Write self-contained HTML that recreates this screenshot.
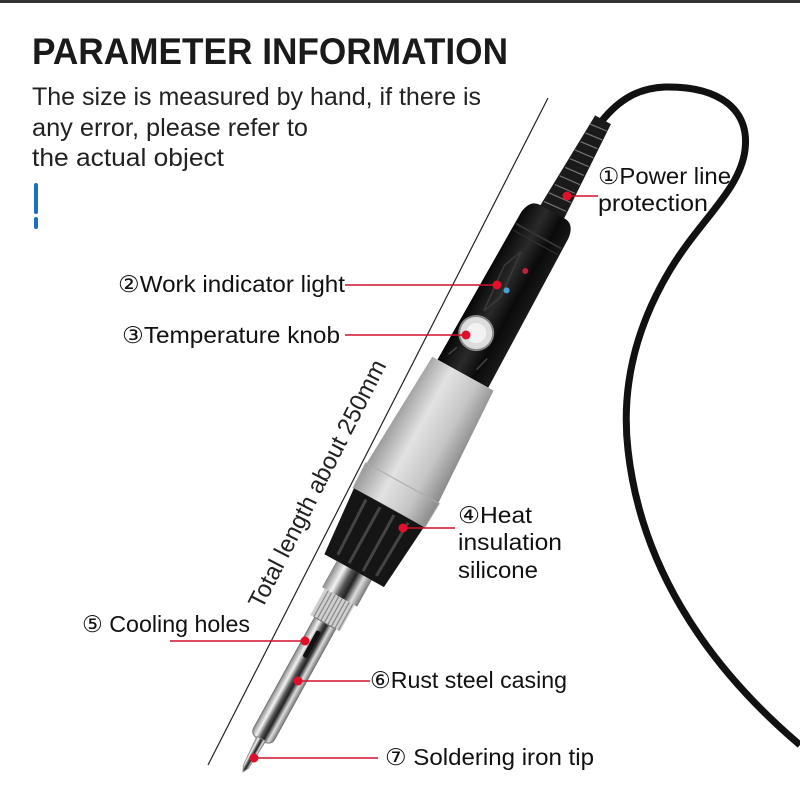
<!DOCTYPE html>
<html><head><meta charset="utf-8"><style>
html,body{margin:0;padding:0;background:#fff;}
svg{display:block;}
text{font-family:"Liberation Sans",sans-serif;}
</style></head><body>
<svg width="800" height="800" viewBox="0 0 800 800" xmlns="http://www.w3.org/2000/svg">
<defs>
<linearGradient id="steel" x1="0" x2="1" y1="0" y2="0">
<stop offset="0" stop-color="#888"/><stop offset="0.25" stop-color="#f4f4f4"/><stop offset="0.45" stop-color="#555"/><stop offset="0.6" stop-color="#222"/><stop offset="0.8" stop-color="#ddd"/><stop offset="1" stop-color="#777"/>
</linearGradient>
<linearGradient id="gray" x1="0" x2="1" y1="0" y2="0">
<stop offset="0" stop-color="#9a9a9a"/><stop offset="0.35" stop-color="#e2e2e2"/><stop offset="0.7" stop-color="#c6c6c6"/><stop offset="1" stop-color="#8a8a8a"/>
</linearGradient>
<linearGradient id="black" x1="0" x2="1" y1="0" y2="0">
<stop offset="0" stop-color="#050505"/><stop offset="0.4" stop-color="#2a2a2a"/><stop offset="0.7" stop-color="#0a0a0a"/><stop offset="1" stop-color="#1a1a1a"/>
</linearGradient>
</defs>
<rect x="0" y="0" width="800" height="3" fill="#333"/>
<text x="32" y="64" font-size="37" font-weight="bold" fill="#1a1a1a" textLength="476" lengthAdjust="spacingAndGlyphs">PARAMETER INFORMATION</text>
<text x="32" y="105" font-size="25" fill="#222" textLength="449" lengthAdjust="spacingAndGlyphs">The size is measured by hand, if there is</text>
<text x="32" y="136" font-size="25" fill="#222" textLength="276" lengthAdjust="spacingAndGlyphs">any error, please refer to</text>
<text x="32" y="166" font-size="25" fill="#222" textLength="192" lengthAdjust="spacingAndGlyphs">the actual object</text>
<rect x="34" y="183" width="4" height="31" rx="2" fill="#1a6fc0"/>
<rect x="34" y="217" width="4" height="12" rx="2" fill="#1a6fc0"/>

<line x1="208" y1="765" x2="548" y2="98" stroke="#222" stroke-width="1.2"/>
<text x="0" y="0" font-size="24" fill="#222" transform="translate(262,610) rotate(-63)" textLength="275" lengthAdjust="spacingAndGlyphs">Total length about 250mm</text>

<path d="M601,122 C620,98 640,88 665,87 C720,86 750,110 745,150 C740,190 700,220 670,270 C640,320 620,380 628,450 C640,560 700,660 800,745" fill="none" stroke="#111" stroke-width="7"/>

<g transform="translate(243,772) rotate(28.9)">
  <path d="M-14,-630 L-9,-745 L9,-745 L14,-630 Z" fill="#1a1a1a"/>
  <g stroke="#777" stroke-width="1.2">
    <line x1="-12" y1="-645" x2="12" y2="-647"/><line x1="-12" y1="-655" x2="12" y2="-657"/><line x1="-11" y1="-665" x2="11" y2="-667"/><line x1="-11" y1="-675" x2="11" y2="-677"/><line x1="-10" y1="-685" x2="10" y2="-687"/><line x1="-10" y1="-695" x2="10" y2="-697"/><line x1="-10" y1="-705" x2="10" y2="-707"/><line x1="-9" y1="-715" x2="9" y2="-717"/><line x1="-9" y1="-725" x2="9" y2="-727"/><line x1="-9" y1="-735" x2="9" y2="-737"/>
  </g>
  <path d="M-29,-455 L-27,-625 Q-25,-640 -14,-640 L14,-640 Q25,-640 27,-625 L29,-455 Z" fill="url(#black)"/>
  <line x1="-26" y1="-612" x2="26" y2="-612" stroke="#333" stroke-width="2"/>
  <line x1="-26" y1="-605" x2="26" y2="-605" stroke="#333" stroke-width="1"/>
  <path d="M-12,-520 L-16,-570 L-8,-590 L-4,-540 Z" fill="none" stroke="#3a3a3a" stroke-width="1.5"/>
  <circle cx="5" cy="-575" r="3" fill="#c0203a"/>
  <circle cx="-2" cy="-549" r="3" fill="#4aa3d8"/>
  <circle cx="-8" cy="-497" r="17" fill="#ddd" stroke="#888" stroke-width="2"/>
  <circle cx="-8" cy="-497" r="10" fill="#f2f2f2"/>
  <path d="M-22,-465 L-18,-475 M10,-465 L14,-480" stroke="#444" stroke-width="1.5"/>
  <path d="M-35,-455 L35,-455 L41,-330 L-41,-330 Z" fill="url(#gray)"/>
  <path d="M-42,-330 L42,-330 L41,-302 L-41,-302 Z" fill="url(#gray)" stroke="#aaa" stroke-width="1"/>
  <path d="M-40,-302 L40,-302 L34,-230 L-34,-230 Z" fill="#151515"/>
  <g stroke="#444" stroke-width="3"><line x1="-24" y1="-298" x2="-22" y2="-236"/><line x1="-8" y1="-298" x2="-8" y2="-234"/><line x1="8" y1="-298" x2="8" y2="-234"/><line x1="24" y1="-298" x2="22" y2="-236"/></g>
  <rect x="-20" y="-230" width="40" height="30" fill="url(#steel)"/>
  <rect x="-17" y="-200" width="34" height="30" fill="#cfcfcf"/>
  <g stroke="#888" stroke-width="1.2"><line x1="-13" y1="-200" x2="-13" y2="-170"/><line x1="-9" y1="-200" x2="-9" y2="-170"/><line x1="-5" y1="-200" x2="-5" y2="-170"/><line x1="-1" y1="-200" x2="-1" y2="-170"/><line x1="3" y1="-200" x2="3" y2="-170"/><line x1="7" y1="-200" x2="7" y2="-170"/><line x1="11" y1="-200" x2="11" y2="-170"/><line x1="15" y1="-200" x2="15" y2="-170"/></g>
  <path d="M-12,-170 L12,-170 L12,-44 Q12,-36 0,-36 Q-12,-36 -12,-44 Z" fill="url(#steel)" stroke="#777" stroke-width="1"/>
  <rect x="-4" y="-160" width="5" height="30" rx="2" fill="#111"/>
  <path d="M-5,-38 L5,-38 L3,-6 L0,0 L-3,-6 Z" fill="url(#steel)" stroke="#888" stroke-width="0.8"/>
</g>

<g stroke="#d0102a" stroke-width="1.6" fill="none">
  <line x1="567" y1="196" x2="598" y2="196"/>
  <line x1="345" y1="285" x2="497" y2="285"/>
  <line x1="345" y1="335" x2="466" y2="335"/>
  <line x1="403" y1="528" x2="455" y2="528"/>
  <line x1="170" y1="641" x2="305" y2="641"/>
  <line x1="298" y1="681" x2="370" y2="681"/>
  <line x1="254" y1="758" x2="378" y2="758"/>
</g>
<g fill="#e0102a">
  <circle cx="567" cy="196" r="4.5"/><circle cx="497" cy="285" r="4.5"/><circle cx="466" cy="335" r="4.5"/>
  <circle cx="403" cy="528" r="4.5"/><circle cx="305" cy="641" r="4.5"/><circle cx="298" cy="681" r="4.5"/><circle cx="254" cy="758" r="4.5"/>
</g>
<g font-size="23" fill="#111">
  <text x="598" y="184" textLength="133" lengthAdjust="spacingAndGlyphs">①Power line</text>
  <text x="598" y="211" textLength="110" lengthAdjust="spacingAndGlyphs">protection</text>
  <text x="118" y="292" textLength="227" lengthAdjust="spacingAndGlyphs">②Work indicator light</text>
  <text x="122" y="343" textLength="218" lengthAdjust="spacingAndGlyphs">③Temperature knob</text>
  <text x="458" y="523" textLength="74" lengthAdjust="spacingAndGlyphs">④Heat</text>
  <text x="458" y="550" textLength="104" lengthAdjust="spacingAndGlyphs">insulation</text>
  <text x="458" y="578" textLength="80" lengthAdjust="spacingAndGlyphs">silicone</text>
  <text x="82" y="632" textLength="168" lengthAdjust="spacingAndGlyphs">⑤ Cooling holes</text>
  <text x="370" y="688" textLength="197" lengthAdjust="spacingAndGlyphs">⑥Rust steel casing</text>
  <text x="385" y="765" textLength="209" lengthAdjust="spacingAndGlyphs">⑦ Soldering iron tip</text>
</g>
</svg>
</body></html>
